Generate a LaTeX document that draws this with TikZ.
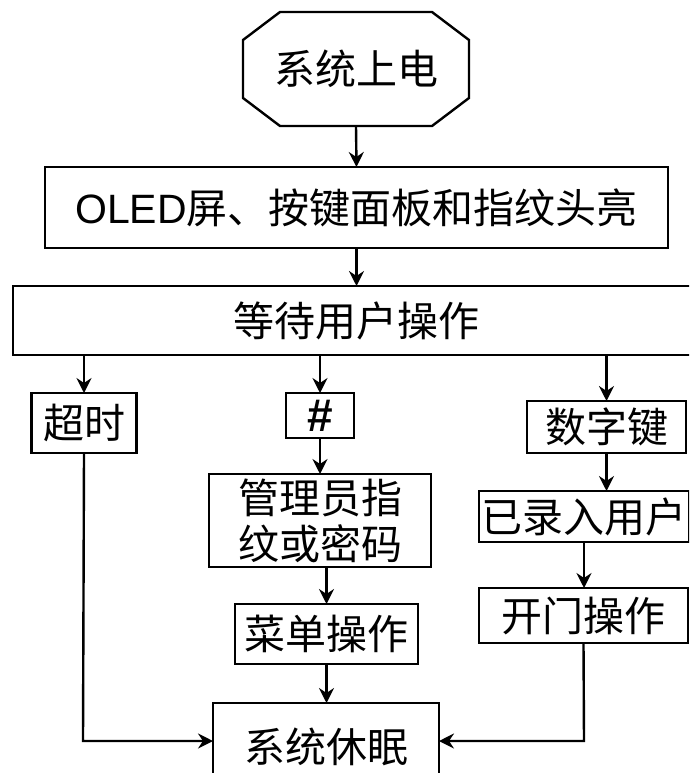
\documentclass[tikz,border=0pt]{standalone}
\usepackage{fontspec}
\setmainfont{Noto Sans CJK SC}
\newfontfamily\arialfont{Liberation Sans}
\usetikzlibrary{arrows.meta}
\tikzset{
  box/.style={draw, line width=2.4pt, rectangle, inner sep=0pt, outer sep=0pt, align=center,
    font=\fontsize{41}{46}\selectfont},
  plain/.style={inner sep=0pt, outer sep=0pt, align=center, font=\fontsize{41}{46}\selectfont},
  link/.style={line width=2.4pt, -{Stealth[length=15pt, width=15pt, inset=5pt]}},
  wire/.style={line width=2.4pt}
}
\begin{document}
\begin{tikzpicture}[x=1pt,y=-1pt]
\clip (0,0) rectangle (689,773);
\fill[white] (0,0) rectangle (689,773);
% start octagon
\node[plain, minimum width=226pt, minimum height=114pt] (start) at (356,69) {系统上电};
\draw[wire, line join=miter]
  ([xshift=37pt]start.north west) -- ([xshift=-37pt]start.north east)
  -- ([yshift=-28pt]start.north east) -- ([yshift=28pt]start.south east)
  -- ([xshift=-37pt]start.south east) -- ([xshift=37pt]start.south west)
  -- ([yshift=28pt]start.south west) -- ([yshift=-28pt]start.north west) -- cycle;
\node[box, minimum width=623pt, minimum height=81pt] (led) at (356.5,207.5)
  {{\arialfont OLED}屏、按键面板和指纹头亮};
\node[box, minimum width=687pt, minimum height=69pt] (wait) at (356.5,320.5) {等待用户操作};
\node[box, minimum width=105pt, minimum height=60pt] (timeout) at (84,423) {超时};
\node[box, minimum width=68pt, minimum height=45pt] (hash) at (320,415.5) {\fontsize{46}{46}\selectfont\arialfont\bfseries \#};
\node[box, minimum width=159pt, minimum height=52pt] (digit) at (606.5,427) {数字键};
\node[box, minimum width=222pt, minimum height=93pt] (admin) at (320,520.5) {管理员指\\纹或密码};
\node[box, minimum width=210pt, minimum height=51pt] (reg) at (584,516.5) {已录入用户};
\node[box, minimum width=183pt, minimum height=60pt] (menu) at (326.5,634) {菜单操作};
\node[box, minimum width=209pt, minimum height=55pt] (open) at (583.5,615.5) {开门操作};
\node[box, minimum width=226pt, minimum height=88pt] (sleep) at (326,747) {系统休眠};
\coordinate (lc) at (83,741);
\coordinate (rc) at (584,741);
% connectors
\draw[link] (start.south) -- (led.north);
\draw[link] (led.south) -- (wait.north);
\draw[link] (wait.south -| timeout.north) -- (timeout.north);
\draw[link] (wait.south -| hash.north) -- (hash.north);
\draw[link] (wait.south -| digit.north) -- (digit.north);
\draw[link] (hash.south) -- (admin.north);
\draw[link] (admin.south -| menu.north) -- (menu.north);
\draw[link] (menu.south) -- (menu.south |- sleep.north);
\draw[link] (digit.south) -- (digit.south |- reg.north);
\draw[link] (reg.south) -- (reg.south |- open.north);
\draw[link] (timeout.south) -- (lc) -- (lc -| sleep.west);
\draw[link] (open.south) -- (rc) -- (rc -| sleep.east);
\end{tikzpicture}
\end{document}
